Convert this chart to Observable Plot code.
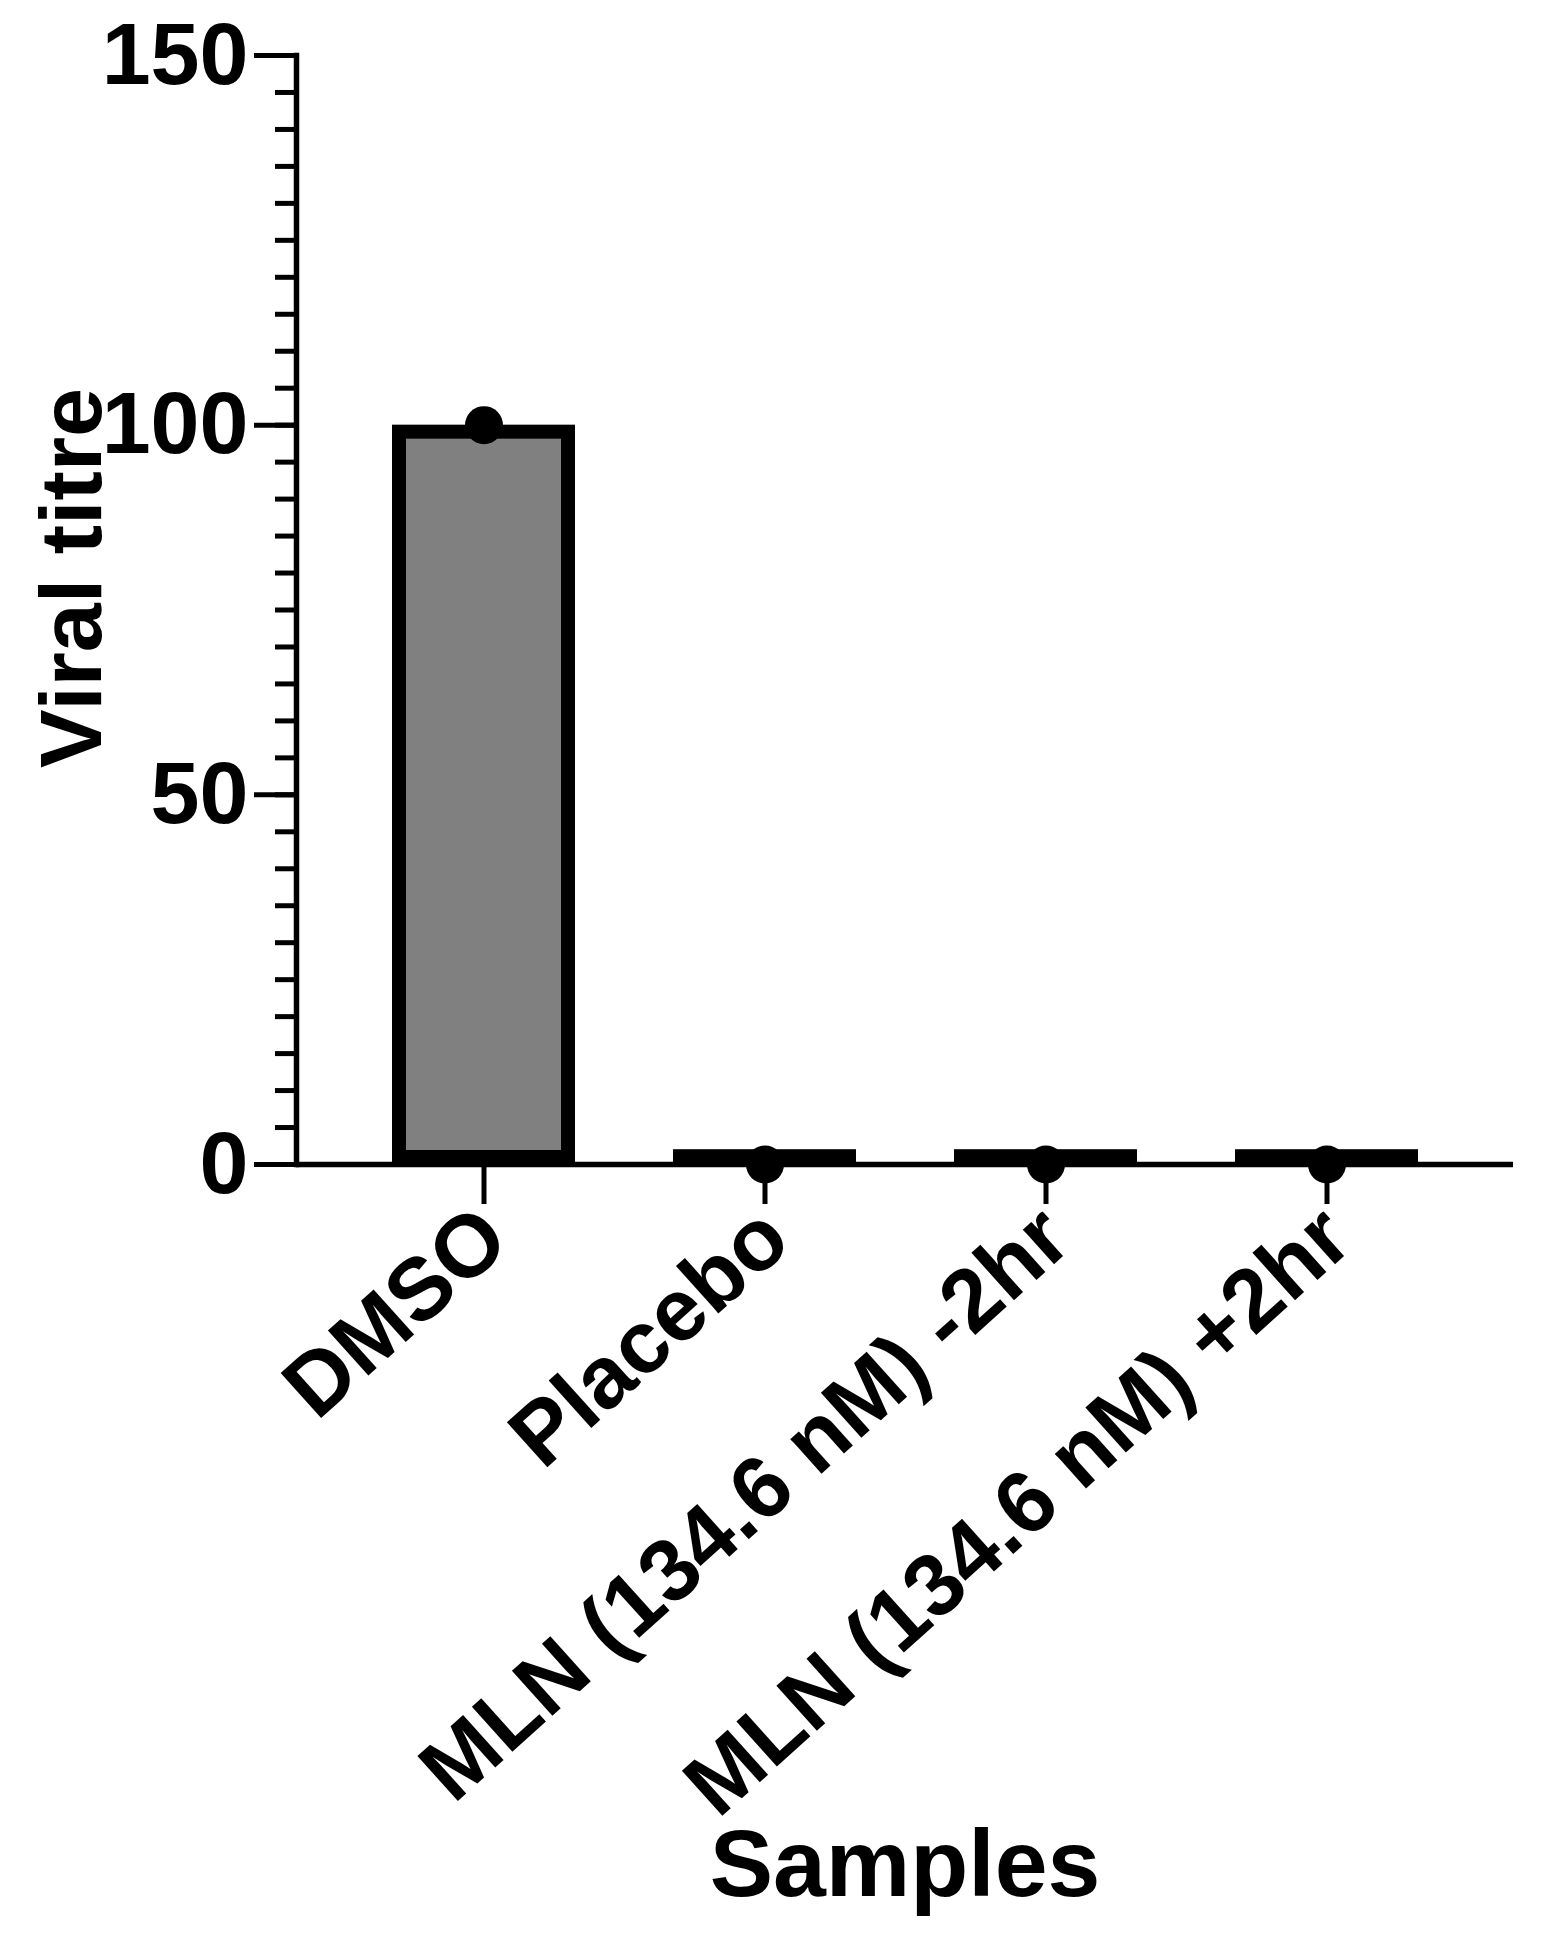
<!DOCTYPE html>
<html>
<head>
<meta charset="utf-8">
<script src="https://cdn.jsdelivr.net/npm/d3@7"></script>
<script src="https://cdn.jsdelivr.net/npm/@observablehq/plot@0.6"></script>
<style>
  html, body { margin: 0; padding: 0; background: #fff; }
  svg { display: block; }
</style>
</head>
<body>
<div id="chart"></div>
<script>
// ---- data ----
const categories = ["DMSO", "Placebo", "MLN (134.6 nM) -2hr", "MLN (134.6 nM) +2hr"];
const barMeans = [100, 2, 2, 2];
const pointValues = [100, 0, 0, 0];
const yMajorTicks = [0, 50, 100, 150];
const yMinorTicks = [0, 5, 10, 15, 20, 25, 30, 35, 40, 45, 50, 55, 60, 65, 70, 75,
                     80, 85, 90, 95, 100, 105, 110, 115, 120, 125, 130, 135, 140, 145, 150];
const yLabel = "Viral titre";
const xLabel = "Samples";

const bars = categories.map((c, i) => ({category: c, value: barMeans[i]}));
const points = categories.map((c, i) => ({category: c, value: pointValues[i]}));

const FONT = "'Liberation Sans', Arial, Helvetica, sans-serif";

const chart = Plot.plot({
  width: 1548,
  height: 1952,
  marginLeft: 296,
  marginRight: 35,
  marginTop: 55,
  marginBottom: 788,
  style: {fontFamily: FONT, fontWeight: "bold", color: "black", background: "white"},
  x: {domain: categories, paddingInner: 0.35, paddingOuter: 0.34, label: null},
  y: {domain: [0, 150], label: null},
  marks: [
    Plot.barY(bars, {x: "category", y: "value", fill: "#808080", stroke: "black", strokeWidth: 14, inset: 7}),
    Plot.ruleY([0], {stroke: "black", strokeWidth: 5.5}),
    Plot.frame({anchor: "left", stroke: "black", strokeWidth: 5.5}),
    Plot.dot(points, {x: "category", y: "value", r: 19, fill: "black", stroke: "none"}),
    Plot.axisY({ticks: yMinorTicks, tickSize: 21, text: null, strokeWidth: 5, label: null}),
    Plot.axisY({ticks: yMajorTicks, tickSize: 42, tickPadding: 6, fontSize: 88, strokeWidth: 5, label: null}),
    Plot.axisX({tickSize: 40, text: null, strokeWidth: 5, label: null}),
    Plot.axisX({tickSize: 0, tickPadding: 60, tickRotate: -42, fontSize: 88, dx: 10, label: null}),
    Plot.text([yLabel], {text: d => d, frameAnchor: "left", dx: -196, dy: -32, rotate: -90,
      textAnchor: "middle", lineAnchor: "bottom", fontSize: 88, fontWeight: "bold"}),
    Plot.text([xLabel], {text: d => d, frameAnchor: "bottom", dy: 701, textAnchor: "middle",
      lineAnchor: "middle", fontSize: 95, fontWeight: "bold"})
  ]
});
document.getElementById("chart").appendChild(chart);
</script>
</body>
</html>
